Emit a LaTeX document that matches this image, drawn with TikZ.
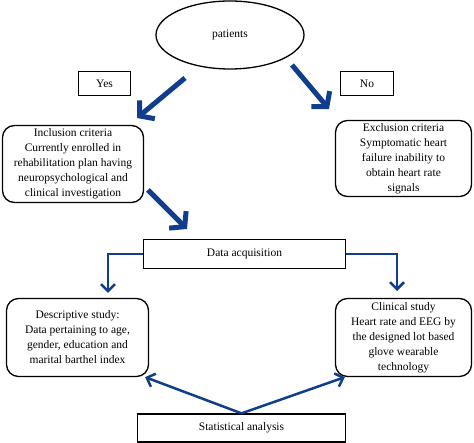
\documentclass[tikz,border=0pt]{standalone}
\usepackage{fontspec}
\setmainfont{Liberation Serif}
\usepackage{tikz}
\usetikzlibrary{shapes.geometric}
\usetikzlibrary{arrows.meta}
\definecolor{bleu}{RGB}{16,62,140}
\tikzset{cadre/.style={draw,line width=1.3pt,font=\fontsize{11.5}{15}\selectfont}}
\tikzset{arrondi/.style={cadre,rounded corners=12pt,align=center,inner sep=1pt}}
\tikzset{epais/.style={draw=bleu,line width=5pt,-{Straight Barb[length=10pt,width=24pt]}}}
\tikzset{mince/.style={draw=bleu,line width=2.5pt,-{Straight Barb[length=7pt,width=14pt]}}}

\begin{document}
\begin{tikzpicture}[x=1pt,y=-1pt]
\useasboundingbox (0,0) rectangle (474,443);
\node(Pat) at (230,35) [shape=ellipse,cadre,minimum width=148pt,minimum height=68pt] {patients};
\node(Yes) at (104.5,83.5) [cadre,minimum width=52pt,minimum height=24pt] {Yes};
\node(No) at (367,83.5) [cadre,minimum width=53pt,minimum height=24pt] {No};
\node(Incl) at (73,164) [arrondi,minimum width=141pt,minimum height=77pt] {Inclusion criteria\\Currently enrolled in\\rehabilitation plan having\\neuropsychological and\\clinical investigation};
\node(Excl) at (403.5,158.5) [arrondi,minimum width=136pt,minimum height=76pt] {Exclusion criteria\\Symptomatic heart\\failure inability to\\obtain heart rate\\signals};
\node(Acq) at (244.5,254) [cadre,minimum width=202pt,minimum height=29pt] {Data acquisition};
\node(Desc) at (77.5,337.5) [arrondi,minimum width=142pt,minimum height=78pt] {Descriptive study:\\Data pertaining to age,\\gender, education and\\marital barthel index};
\node(Clin) at (403.5,337.5) [arrondi,minimum width=136pt,minimum height=78pt] {Clinical study\\Heart rate and EEG by\\the designed lot based\\glove wearable\\technology};
\node(Stat) at (241.5,428) [cadre,minimum width=208pt,minimum height=28pt] {Statistical analysis};

\coordinate(Y1) at (185,78);
\coordinate(Y2) at (137,118);
\coordinate(N1) at (292,65);
\coordinate(N2) at (329,109);
\coordinate(A1) at (148,190);
\coordinate(A2) at (187,229);
\coordinate(DL) at (108,293);
\coordinate(DR) at (397,291);

\draw[epais] (Y1)--(Y2);
\draw[epais] (N1)--(N2);
\draw[epais] (A1)--(A2);
\draw[mince] (Acq.west) -| (DL);
\draw[mince] (Acq.east) -| (DR);
\draw[mince] (Stat.north) -- ([xshift=-4pt]Desc.south east);
\draw[mince] (Stat.north) -- ([xshift=10pt]Clin.south west);
\end{tikzpicture}
\end{document}
